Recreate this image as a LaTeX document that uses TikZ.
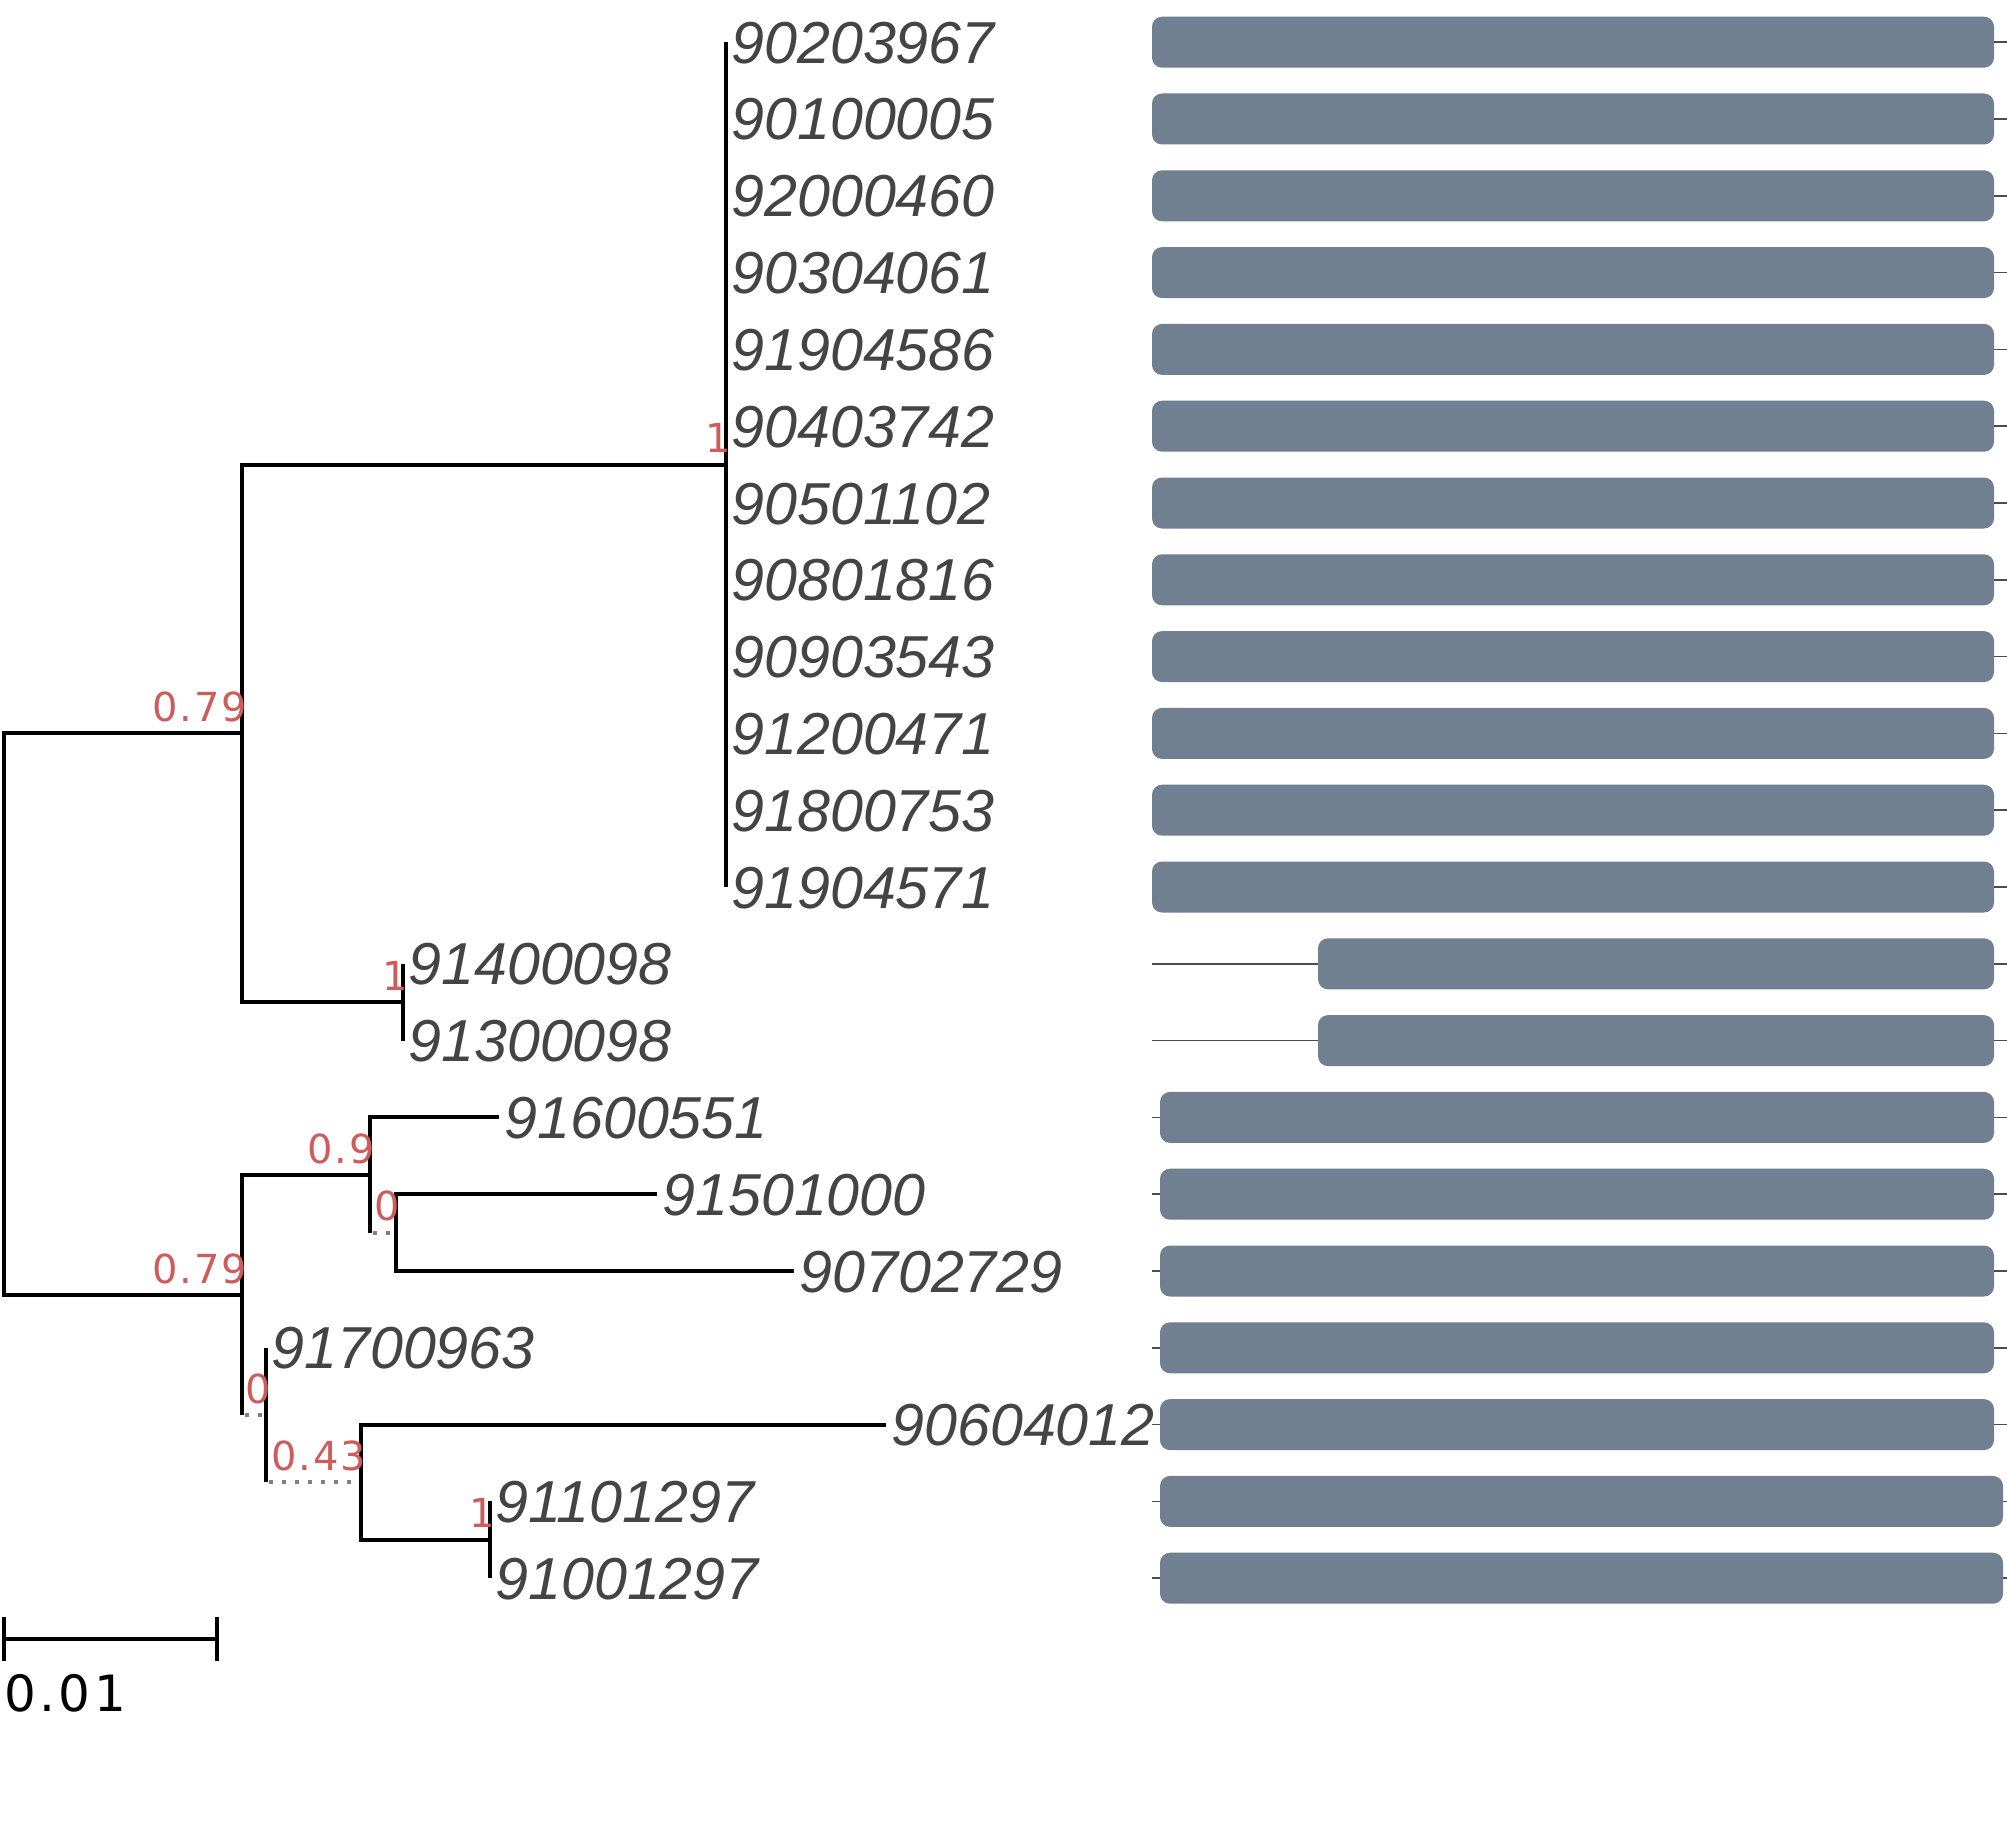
\documentclass[tikz,border=0pt]{standalone}
\usepackage{fontspec}
\usetikzlibrary{calc}
\newfontfamily\leaffont{Liberation Sans}
\newfontfamily\verafont{DejaVu Sans}[LetterSpace=4]
\newfontfamily\scalefont{DejaVu Sans}
\definecolor{leafgray}{RGB}{68,68,68}
\definecolor{supred}{RGB}{205,92,92}
\definecolor{barfill}{RGB}{112,128,144}
\definecolor{dotgray}{RGB}{128,128,128}
\begin{document}
\begin{tikzpicture}[x=0.5pt,y=-0.5pt,
  branch/.style={line width=2pt, black},
  dotbranch/.style={line width=2pt, dotgray, dash pattern=on 2pt off 4.5pt, dash phase=-1.5pt},
  leaflabel/.style={anchor=base west, inner sep=0pt, text=leafgray, font=\leaffont\itshape\fontsize{29.6}{31}\selectfont},
  suplabel/.style={anchor=base east, inner sep=0pt, text=supred, font=\verafont\fontsize{20}{22}\selectfont},
  barbox/.style={fill=barfill, rounded corners=5pt},
  rowline/.style={line width=0.75pt, black!70}]
\useasboundingbox (0,0) rectangle (2007,1830);
% leaves, row lines and bars
\foreach \i/\tx/\lab/\bl/\br in {
  0/726/90203967/1152/1994, 1/726/90100005/1152/1994, 2/726/92000460/1152/1994,
  3/726/90304061/1152/1994, 4/726/91904586/1152/1994, 5/726/90403742/1152/1994,
  6/726/90501102/1152/1994, 7/726/90801816/1152/1994, 8/726/90903543/1152/1994,
  9/726/91200471/1152/1994, 10/726/91800753/1152/1994, 11/726/91904571/1152/1994,
  12/403/91400098/1318/1994, 13/403/91300098/1318/1994,
  14/499/91600551/1160/1994, 15/657/91501000/1160/1994, 16/794/90702729/1160/1994,
  17/266/91700963/1160/1994, 18/886/90604012/1160/1994,
  19/490/91101297/1160/2003, 20/490/91001297/1160/2003}{
  \pgfmathsetmacro\ry{42.2+76.8*\i}
  \draw[rowline] (1152,\ry) -- (2007,\ry);
  \fill[barbox] (\bl,\ry-25.5) rectangle (\br,\ry+25.5);
  \coordinate (t\i) at (\tx,\ry);
  \node[leaflabel] (L\i) at (\tx+5,\ry+21) {\lab};
}
% internal nodes
\coordinate (T) at (726,464.6);
\coordinate (B) at (403,1002.2);
\coordinate (A) at (242,733.4);
\coordinate (E) at (395.5,1232.6);
\coordinate (D) at (370,1175);
\coordinate (H) at (490,1539.8);
\coordinate (G) at (361,1482.2);
\coordinate (F) at (266,1415);
\coordinate (C) at (242,1295);
\coordinate (R) at (3.5,1014.2);
% branches
\draw[branch] (R) |- (A);
\draw[branch] (R) |- (C);
\draw[branch] (A) |- (T);
\draw[branch] (A) |- (B);
\draw[branch] (t0) -- (t11);
\draw[branch] (t12) -- (t13);
\draw[branch] (C) |- (D);
\draw[branch] (C) -- (C |- F);
\draw[dotbranch] (C |- F) -- (F);
\draw[branch] (D) |- (t14);
\draw[branch] (D) -- (D |- E);
\draw[dotbranch] (D |- E) -- (E);
\draw[branch] (E) |- (t15);
\draw[branch] (E) |- (t16);
\draw[branch] (F) -- (t17);
\draw[branch] (F) -- (F |- G);
\draw[dotbranch] (F |- G) -- (G);
\draw[branch] (G) |- (t18);
\draw[branch] (G) |- (H);
\draw[branch] (t19) -- (t20);
% support values
\foreach \n/\v in {T/1, A/0.79, B/1, C/0.79, D/0.9, E/0, F/0, G/0.43, H/1}{
  \node[suplabel] (s\n) at ($(\n)+(5,-12)$) {\v};
}
% scale bar
\coordinate (sb1) at (4,1639);
\coordinate (sb2) at (217,1639);
\draw[line width=1.6pt] (sb1) -- (sb2);
\draw[line width=1.6pt] ($(sb1)+(0,-22)$) -- ($(sb1)+(0,22)$);
\draw[line width=1.6pt] ($(sb2)+(0,-22)$) -- ($(sb2)+(0,22)$);
\node[anchor=base west, inner sep=0pt, font=\scalefont\fontsize{25}{27}\selectfont] (scl) at (4,1711) {0\kern1.7pt.\kern1.7pt0\kern1.7pt1};
\end{tikzpicture}
\end{document}
